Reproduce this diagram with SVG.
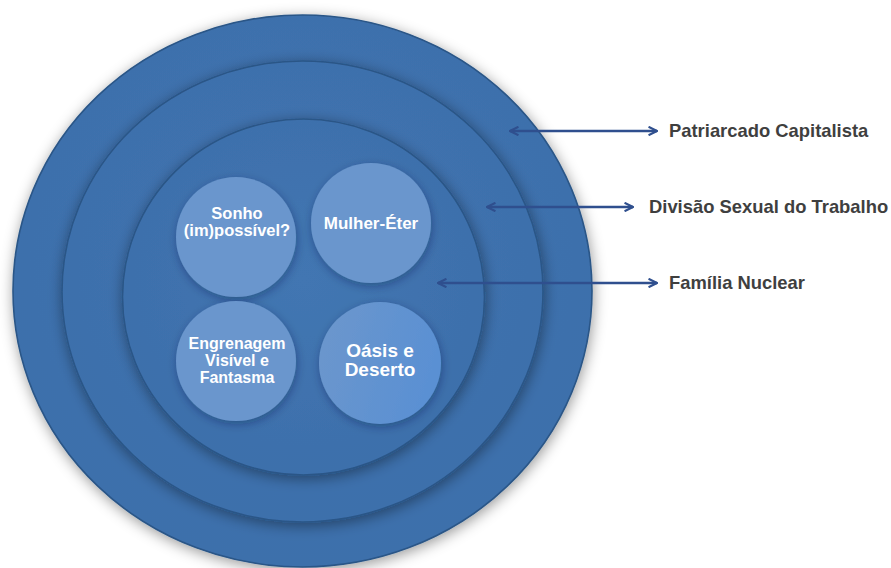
<svg xmlns="http://www.w3.org/2000/svg" width="891" height="568" viewBox="0 0 891 568">
<defs>
<style>
.ring{fill:url(#ringGrad);stroke:#2a5687;stroke-width:1.6;filter:url(#shadow)}
.bub{fill:#6a96cd;filter:url(#shadowS)}
.btxt{font-family:"Liberation Sans",Arial,sans-serif;font-weight:bold;fill:#ffffff;text-anchor:middle}
.lbl{font-family:"Liberation Sans",Arial,sans-serif;font-weight:bold;font-size:18.4px;fill:#3f3f3f}
.arr{stroke:#2f4f8e;stroke-width:2.4;fill:none;marker-start:url(#head);marker-end:url(#head)}
</style>
<radialGradient id="ringGrad" cx="50%" cy="45%" r="55%">
<stop offset="0" stop-color="#4276b2"/>
<stop offset="1" stop-color="#3d6fab"/>
</radialGradient>
<linearGradient id="oasisGrad" x1="0" y1="0" x2="1" y2="0.3">
<stop offset="0" stop-color="#6d97cc"/>
<stop offset="1" stop-color="#5a90d3"/>
</linearGradient>
<filter id="shadow" x="-20%" y="-20%" width="140%" height="140%">
<feDropShadow dx="1" dy="3" stdDeviation="7" flood-color="#000000" flood-opacity="0.4"/>
</filter>
<filter id="shadowS" x="-30%" y="-30%" width="160%" height="160%">
<feDropShadow dx="1" dy="3" stdDeviation="5" flood-color="#0a2040" flood-opacity="0.35"/>
</filter>
<marker id="head" viewBox="0 0 10 10" refX="9" refY="5" markerWidth="4.4" markerHeight="4.4" orient="auto-start-reverse" markerUnits="strokeWidth">
<path d="M1,1 L9,5 L1,9" fill="none" stroke="#2f4f8e" stroke-width="2"/>
</marker>
</defs>
<rect width="891" height="568" fill="#ffffff"/>
<g id="ring-outer"><ellipse class="ring" cx="302.5" cy="291" rx="289.5" ry="276"/></g>
<g id="ring-middle"><ellipse class="ring" cx="302.5" cy="291.5" rx="240.5" ry="230.5"/></g>
<g id="ring-inner"><ellipse class="ring" cx="303.5" cy="297" rx="181" ry="178"/></g>
<g id="node-sonho">
<circle class="bub" cx="236" cy="237" r="60"/>
<text class="btxt" font-size="16.5" x="237" y="219">Sonho</text>
<text class="btxt" font-size="16.5" x="237" y="236">(im)possível?</text>
</g>
<g id="node-mulher">
<circle class="bub" cx="371" cy="223" r="60"/>
<text class="btxt" font-size="17" x="371" y="229">Mulher-Éter</text>
</g>
<g id="node-engrenagem">
<circle class="bub" cx="236" cy="361" r="60"/>
<text class="btxt" font-size="16" x="237" y="349">Engrenagem</text>
<text class="btxt" font-size="16" x="237" y="366">Visível e</text>
<text class="btxt" font-size="16" x="237" y="383">Fantasma</text>
</g>
<g id="node-oasis">
<circle cx="380" cy="363" r="61" fill="url(#oasisGrad)" filter="url(#shadowS)"/>
<text class="btxt" font-size="19" x="380" y="357">Oásis e</text>
<text class="btxt" font-size="19" x="380" y="376">Deserto</text>
</g>
<g id="connectors">
<line class="arr" x1="510" y1="131" x2="657" y2="131"/>
<line class="arr" x1="487" y1="207" x2="633" y2="207"/>
<line class="arr" x1="438" y1="283" x2="657" y2="283"/>
</g>
<g id="labels">
<text class="lbl" x="669" y="137">Patriarcado Capitalista</text>
<text class="lbl" x="649" y="213">Divisão Sexual do Trabalho</text>
<text class="lbl" x="669" y="289">Família Nuclear</text>
</g>
</svg>
